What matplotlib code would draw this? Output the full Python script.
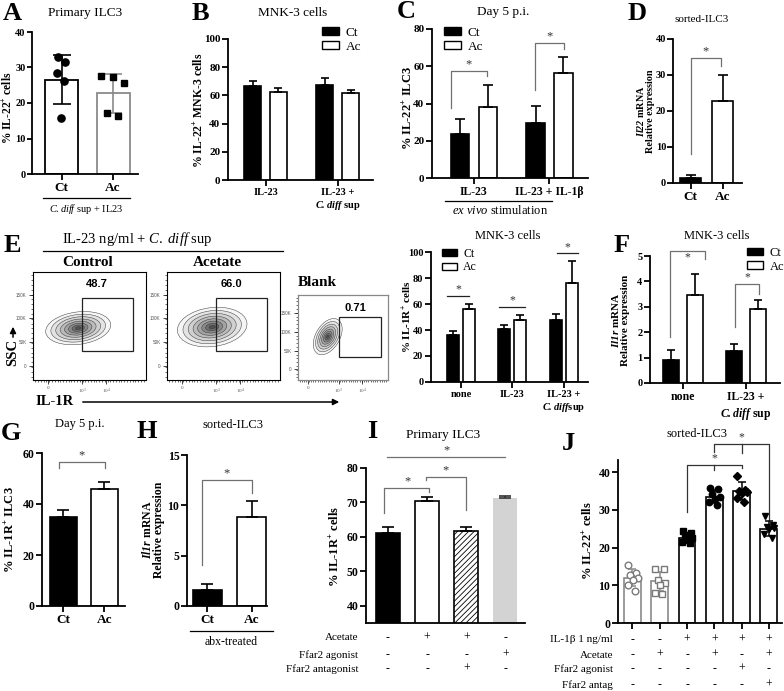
import numpy as np
import matplotlib
matplotlib.use("Agg")
import matplotlib.pyplot as plt
from matplotlib.patches import Patch, Ellipse, Rectangle, FancyArrowPatch
from matplotlib.transforms import blended_transform_factory
from matplotlib.lines import Line2D

plt.rcParams.update({
    'font.family': ['Liberation Serif', 'DejaVu Serif'],
    'mathtext.fontset': 'custom',
    'mathtext.rm': 'Liberation Serif',
    'mathtext.it': 'Liberation Serif:italic',
    'mathtext.bf': 'Liberation Serif:bold',
    'mathtext.bfit': 'Liberation Serif:italic:bold',
    'hatch.color': '#555555',
    'hatch.linewidth': 0.6,
})

# ---------------- data ----------------
A_labels = ['Ct', 'Ac']
A_means = [26.6, 22.7]
A_sd = [6.8, 5.6]
A_ct_points = [33.0, 31.5, 28.4, 26.2, 15.8]
A_ac_points = [27.6, 27.3, 25.6, 17.2, 16.4]

B_labels = ['IL-23', 'IL-23 +\n$\\mathbfit{C.diff}$ sup']
B_ct = [67.0, 67.5]
B_ct_err = [3.5, 5.0]
B_ac = [62.5, 62.0]
B_ac_err = [3.0, 2.0]

C_labels = ['IL-23', 'IL-23 + IL-1β']
C_ct = [23.5, 29.5]
C_ct_err = [8.0, 9.0]
C_ac = [38.0, 56.5]
C_ac_err = [12.0, 8.5]

D_labels = ['Ct', 'Ac']
D_vals = [1.5, 22.7]
D_err = [0.8, 7.3]

E_flow_names = ['Control', 'Acetate', 'Blank']
E_flow_pct = ['48.7', '66.0', '0.71']
E_labels = ['none', 'IL-23', 'IL-23 +\n$\\mathbfit{C.diff}$sup']
E_ct = [36.5, 41.0, 48.0]
E_ct_err = [2.5, 2.5, 4.0]
E_ac = [56.0, 47.5, 76.0]
E_ac_err = [4.0, 4.0, 17.0]

F_labels = ['none', 'IL-23 +\n$\\mathbfit{C.diff}$ sup']
F_ct = [0.9, 1.27]
F_ct_err = [0.4, 0.28]
F_ac = [3.45, 2.93]
F_ac_err = [0.85, 0.34]

G_labels = ['Ct', 'Ac']
G_vals = [35.0, 46.0]
G_err = [2.7, 2.5]

H_labels = ['Ct', 'Ac']
H_vals = [1.6, 8.8]
H_err = [0.6, 1.6]

I_vals = [61.2, 70.3, 61.8, 71.2]
I_err = [1.7, 1.2, 1.0, 0.8]
I_rows = ['Acetate', 'Ffar2 agonist', 'Ffar2 antagonist']
I_signs = [['-', '+', '+', '-'],
           ['-', '-', '-', '+'],
           ['-', '-', '+', '-']]

J_means = [12.0, 11.0, 22.6, 33.5, 35.0, 25.0]
J_sd = [2.2, 2.6, 1.0, 1.8, 2.3, 2.0]
J_points = [
    [15.5, 13.3, 12.8, 12.0, 11.5, 10.0, 8.6],
    [14.3, 14.2, 11.5, 10.5, 10.2, 8.0, 7.8],
    [24.3, 23.8, 23.2, 22.6, 22.0, 21.6, 21.3],
    [35.7, 35.4, 34.3, 33.5, 32.8, 32.2, 31.3],
    [38.9, 35.3, 35.0, 34.8, 34.5, 33.2, 32.0],
    [28.3, 26.0, 25.5, 25.2, 24.8, 23.7, 22.5],
]
J_rows = ['IL-1β 1 ng/ml', 'Acetate', 'Ffar2 agonist', 'Ffar2 antag']
J_signs = [['-', '-', '+', '+', '+', '+'],
           ['-', '+', '-', '+', '-', '+'],
           ['-', '-', '-', '-', '+', '-'],
           ['-', '-', '-', '-', '-', '+']]

# ---------------- helpers ----------------
W, H = 784, 691
fig = plt.figure(figsize=(W / 100, H / 100), dpi=100)
GRAY = '#707070'


def add_ax(x0, y0, x1, y1):
    return fig.add_axes([x0 / W, 1 - y1 / H, (x1 - x0) / W, (y1 - y0) / H])


def ftext(x, y, s, **kw):
    kw.setdefault('ha', 'center')
    kw.setdefault('va', 'center')
    return fig.text(x / W, 1 - y / H, s, **kw)


def fline(x0, y0, x1, y1, color='black', lw=0.9):
    fig.add_artist(Line2D([x0 / W, x1 / W], [1 - y0 / H, 1 - y1 / H], color=color, lw=lw))


def farrow(x0, y0, x1, y1):
    fig.add_artist(FancyArrowPatch((x0 / W, 1 - y0 / H), (x1 / W, 1 - y1 / H),
                                   transform=fig.transFigure, arrowstyle='-|>',
                                   mutation_scale=9, lw=1.1, color='black'))


def style(ax, xlim, ylim, yticks, fs=8, pad=1.5):
    ax.set_xlim(*xlim)
    ax.set_ylim(*ylim)
    ax.set_yticks(yticks)
    ax.spines['top'].set_visible(False)
    ax.spines['right'].set_visible(False)
    for s in ('left', 'bottom'):
        ax.spines[s].set_linewidth(1.3)
    ax.tick_params(direction='out', length=4, width=1.3, labelsize=fs, pad=pad)
    for lab in ax.get_yticklabels():
        lab.set_fontweight('bold')
    ax.patch.set_alpha(0)


def xlabels(ax, labels, fs=8, pad=2):
    ax.set_xticks(range(len(labels)))
    ax.set_xticklabels(labels, fontweight='bold', fontsize=fs)
    ax.tick_params(axis='x', pad=pad)


def up_err(ax, x, y, e, color='black', cap=3.5):
    ax.errorbar(x, y, yerr=[np.zeros(len(e)), e], fmt='none', ecolor=color,
                elinewidth=1.2, capsize=cap, capthick=1.2, zorder=3)


def grouped(ax, ct, cte, ac, ace, off, w, cap):
    x = np.arange(len(ct))
    ax.bar(x - off, ct, w, color='black', edgecolor='black', lw=1.2, zorder=2)
    ax.bar(x + off, ac, w, color='white', edgecolor='black', lw=1.2, zorder=2)
    up_err(ax, x - off, ct, cte, cap=cap)
    up_err(ax, x + off, ac, ace, cap=cap)


def bracket(ax, x1, x2, top, f1, f2, color=GRAY, mids=(), fs=9, starx=None,
            scolor='#333333', below=False):
    ax.plot([x1, x1, x2, x2], [f1, top, top, f2], color=color, lw=0.9, clip_on=False)
    for mx, mf in mids:
        ax.plot([mx, mx], [top, mf], color=color, lw=0.9, clip_on=False)
    sx = (x1 + x2) / 2 if starx is None else starx
    if below:
        ax.annotate('*', (sx, top), xytext=(0, -0.5), textcoords='offset points', ha='center',
                    va='top', fontsize=fs, color=scolor, annotation_clip=False)
    else:
        ax.annotate('*', (sx, top), xytext=(0, 0.3), textcoords='offset points', ha='center',
                    va='bottom', fontsize=fs, color=scolor, annotation_clip=False)


def legend(ax, x, y, fs=9):
    h = [Patch(facecolor='black', edgecolor='black', label='Ct'),
         Patch(facecolor='white', edgecolor='black', label='Ac')]
    ax.legend(handles=h, loc='upper left', bbox_to_anchor=(x / W, 1 - y / H),
              bbox_transform=fig.transFigure, frameon=False, fontsize=fs,
              handlelength=1.3, handleheight=0.55, handletextpad=0.5,
              labelspacing=0.12, borderpad=0, borderaxespad=0)


def ylab(x, y, s, fs=8.5, ls=0.95):
    ftext(x, y, s, rotation=90, fontweight='bold', fontsize=fs, linespacing=ls,
          multialignment='center')


# ---------------- panel letters & titles ----------------
for L, (x, y) in {'A': (12, 13), 'B': (200, 13), 'C': (406, 12), 'D': (637, 13),
                  'E': (12, 245), 'F': (622, 246), 'G': (11, 434), 'H': (147, 431),
                  'I': (372, 431), 'J': (568, 443)}.items():
    ftext(x, y, L, fontsize=19, fontweight='bold')

for s, (x, y), fs in [('Primary ILC3', (85, 13), 9.5), ('MNK-3 cells', (293, 13), 9.5),
                      ('Day 5 p.i.', (503, 12), 9.5), ('sorted-ILC3', (702, 20), 8),
                      ('MNK-3 cells', (508, 236), 9), ('MNK-3 cells', (717, 236), 9),
                      ('Day 5 p.i.', (80, 424), 9), ('sorted-ILC3', (233, 425), 9),
                      ('Primary ILC3', (443, 435), 9.5), ('sorted-ILC3', (697, 434), 9)]:
    ftext(x, y, s, fontsize=fs)

# ---------------- A ----------------
ax = add_ax(32, 32, 138, 174)
edgesA = ['black', '#8a8a8a']
ax.bar([0, 1], A_means, 0.64, color='white', edgecolor=edgesA, lw=1.3, zorder=2)
for i in range(2):
    ax.errorbar([i], [A_means[i]], yerr=[[A_sd[i]], [A_sd[i]]], fmt='none', ecolor=edgesA[i],
                elinewidth=1.2, capsize=6.5, capthick=1.2, zorder=3)
jitA_ct = [-0.07, 0.06, -0.08, 0.05, -0.01]
jitA_ac = [-0.23, 0.0, 0.21, -0.12, 0.10]
ax.plot(np.array(jitA_ct), A_ct_points, 'o', color='black', ms=5.2, zorder=4)
ax.plot(1 + np.array(jitA_ac), A_ac_points, 's', color='black', ms=4.8, zorder=4)
style(ax, (-0.573, 1.485), (0, 40), [0, 10, 20, 30, 40], fs=7.5, pad=1)
ax.tick_params(axis='y', length=3.5)
xlabels(ax, A_labels, fs=9.5)
ylab(8, 108, '% IL-22$^{\\mathbf{+}}$ cells', fs=8.3)
fline(43, 198, 130, 198)
ftext(86, 209, '$\\mathit{C.diff}$ sup + IL23', fontsize=7.5)

# ---------------- B ----------------
ax = add_ax(228, 39, 373, 180)
grouped(ax, B_ct, B_ct_err, B_ac, B_ac_err, 0.18, 0.236, 3)
style(ax, (-0.52, 1.49), (0, 100), [0, 20, 40, 60, 80, 100])
xlabels(ax, B_labels, fs=7.5)
ylab(199, 110, '% IL-22$^{\\mathbf{+}}$ MNK-3 cells')
legend(ax, 322, 27, fs=9.5)

# ---------------- C ----------------
ax = add_ax(432, 29, 588, 178)
grouped(ax, C_ct, C_ct_err, C_ac, C_ac_err, 0.185, 0.24, 3.5)
style(ax, (-0.556, 1.51), (0, 80), [0, 20, 40, 60, 80])
xlabels(ax, C_labels, fs=8.5)
ylab(408, 108, '% IL-22$^{\\mathbf{+}}$ ILC3', fs=9)
legend(ax, 444, 27, fs=9.5)
bracket(ax, -0.305, 0.172, 57.5, 37.6, 55.0)
bracket(ax, 0.808, 1.19, 72.5, 47.0, 69.0)
fline(445, 201, 552, 201)
ftext(500, 211, '$\\mathit{ex\\ vivo}$ stimulation', fontsize=9)

# ---------------- D ----------------
ax = add_ax(673, 39, 742, 183)
ax.bar([0, 1], D_vals, 0.66, color=['black', 'white'], edgecolor='black', lw=1.2, zorder=2)
up_err(ax, [0, 1], D_vals, D_err, cap=3.5)
style(ax, (-0.547, 1.6), (0, 40), [0, 10, 20, 30, 40], fs=7.5, pad=1)
xlabels(ax, D_labels, fs=9.5)
ylab(645, 111, '$\\mathbfit{Il22}$ mRNA\nRelative expression', fs=7.3, ls=1.0)
bracket(ax, 0.0, 0.95, 34.7, 8.0, 32.5)

# ---------------- E flow plots ----------------
fline(43, 251, 283, 251)
ftext(137, 239, 'IL-23 ng/ml + $\\mathit{C.\\ diff}$ sup', fontsize=10.5)
ftext(13, 352, 'SSC', rotation=90, fontsize=10.5, fontweight='bold')
farrow(13, 340, 13, 324)
ftext(55, 402, 'IL-1R', fontsize=10.5, fontweight='bold')
farrow(80, 402, 342, 402)

flow_rects = [(33, 272, 146, 380), (167, 272, 280, 380), (298, 295, 388, 380)]
flow_gates = [(0.434, 0.269, 0.885, 0.759), (0.434, 0.269, 0.885, 0.759),
              (0.456, 0.27, 0.922, 0.741)]
flow_pct_pos = [(97, 284), (231, 284), (355, 308)]
flow_title_pos = [(88, 262), (217, 262), (317, 282)]
flow_center = [(0.40, 0.48), (0.40, 0.49), (0.33, 0.51)]
flow_size = [(0.58, 0.30), (0.62, 0.36), (0.46, 0.27)]
flow_angle = [8, 8, 62]
flow_yt = [[0.13, 0.352, 0.574, 0.787]] * 2 + [[0.13, 0.341, 0.565, 0.79]]
flow_xt = [[0.133, 0.434, 0.646]] * 2 + [[0.11, 0.45, 0.71]]
levels = [1.0, 0.84, 0.69, 0.55, 0.42, 0.30, 0.19, 0.09]
shades = ['#f5f5f5', '#e3e3e3', '#d0d0d0', '#bbbbbb', '#a3a3a3', '#8a8a8a', '#6e6e6e', '#505050']
for k in range(3):
    axf = add_ax(*flow_rects[k])
    axf.set_xlim(0, 1)
    axf.set_ylim(0, 1)
    (cx, cy), (w, h) = flow_center[k], flow_size[k]
    for sc, col in zip(levels, shades):
        axf.add_patch(Ellipse((cx, cy), w * sc, h * sc, angle=flow_angle[k], facecolor=col,
                              edgecolor='#3a3a3a', lw=0.35, zorder=2))
    g = flow_gates[k]
    axf.add_patch(Rectangle((g[0], g[1]), g[2] - g[0], g[3] - g[1], fill=False,
                            edgecolor='#222222', lw=0.9, zorder=3))
    for s in axf.spines.values():
        s.set_linewidth(0.8 if k < 2 else 0.9)
        s.set_color('black' if k < 2 else '#888888')
    axf.set_yticks(flow_yt[k])
    axf.set_yticklabels(['0', '50K', '100K', '150K'], fontsize=3.3, color='#555555',
                        family='Liberation Sans')
    axf.set_xticks(flow_xt[k])
    axf.set_xticklabels(['0', '$10^3$', '$10^4$'], fontsize=3.6, color='#555555')
    axf.set_xticks(np.linspace(0.02, 0.98, 40), minor=True)
    axf.set_yticks(np.linspace(0.03, 0.97, 22), minor=True)
    axf.tick_params(direction='out', length=3, width=0.5, pad=1.5)
    axf.tick_params(which='minor', direction='out', length=1.6, width=0.4)
    ftext(*flow_pct_pos[k], E_flow_pct[k], fontsize=8, fontweight='bold',
          family='Liberation Sans')
    ftext(*flow_title_pos[k], E_flow_names[k], fontsize=11, fontweight='bold')

# ---------------- E bars ----------------
ax = add_ax(431, 252, 588, 382)
grouped(ax, E_ct, E_ct_err, E_ac, E_ac_err, 0.155, 0.233, 2.8)
style(ax, (-0.58, 2.466), (0, 100), [0, 20, 40, 60, 80, 100], fs=7.5)
xlabels(ax, E_labels, fs=7.5)
ylab(407, 317, '% IL-1R$^{\\mathbf{+}}$ cells', fs=8)
legend(ax, 442, 248, fs=8.5)
E_sig = [(-0.27, 0.16, 66.0), (-0.26, 0.24, 57.7), (-0.14, 0.27, 99.0)]
for i, (a, b, yv) in enumerate(E_sig):
    bracket(ax, i + a, i + b, yv, yv, yv, color='#222222', fs=8.5)

# ---------------- F ----------------
ax = add_ax(650, 256, 780, 383)
grouped(ax, F_ct, F_ct_err, F_ac, F_ac_err, 0.195, 0.254, 3.2)
style(ax, (-0.524, 1.54), (0, 5), [0, 1, 2, 3, 4, 5], fs=7.5)
xlabels(ax, F_labels, fs=8.5)
ylab(620, 320, '$\\mathbfit{Il1r}$ mRNA\nRelative expression', fs=8)
legend(ax, 747, 247, fs=9)
bracket(ax, -0.206, 0.35, 5.2, 1.8, 4.9, fs=8.5, below=True)
bracket(ax, 0.825, 1.206, 3.9, 2.2, 3.5, fs=8.5)

# ---------------- G ----------------
ax = add_ax(42, 453, 125, 606)
ax.bar([0, 1], G_vals, 0.66, color=['black', 'white'], edgecolor='black', lw=1.2, zorder=2)
up_err(ax, [0, 1], G_vals, G_err, cap=4)
style(ax, (-0.524, 1.5), (0, 60), [0, 20, 40, 60], fs=8.5)
xlabels(ax, G_labels, fs=9.5)
ylab(10, 530, '% IL-1R$^{\\mathbf{+}}$ ILC3', fs=9)
bracket(ax, -0.11, 1.01, 56.5, 54.0, 54.0)

# ---------------- H ----------------
ax = add_ax(187, 455, 267, 606)
ax.bar([0, 1], H_vals, 0.65, color=['black', 'white'], edgecolor='black', lw=1.2, zorder=2)
up_err(ax, [0, 1], H_vals, H_err, cap=4)
style(ax, (-0.46, 1.34), (0, 15), [0, 5, 10, 15], fs=8.5)
xlabels(ax, H_labels, fs=9.5)
ylab(153, 530, '$\\mathbfit{Il1r}$ mRNA\nRelative expression', fs=8.5)
bracket(ax, -0.12, 1.0, 12.5, 4.1, 11.2)
fline(190, 631, 273, 631)
ftext(231, 642, 'abx-treated', fontsize=8.5)

# ---------------- I ----------------
ax = add_ax(366, 468, 525, 623)
Ix = np.arange(4)
ax.bar(Ix[:1], I_vals[:1], 0.61, color='black', edgecolor='black', lw=1.2, zorder=2)
ax.bar(Ix[1:2], I_vals[1:2], 0.61, color='white', edgecolor='black', lw=1.2, zorder=2)
ax.bar(Ix[2:3], I_vals[2:3], 0.61, color='white', edgecolor='black', lw=1.2, hatch='//////',
       zorder=2)
ax.bar(Ix[3:], I_vals[3:], 0.61, color='#d3d3d3', edgecolor='none', zorder=2)
up_err(ax, Ix[:3], I_vals[:3], I_err[:3], cap=4)
up_err(ax, Ix[3:], I_vals[3:], I_err[3:], color='#333333', cap=4)
style(ax, (-0.56, 3.5), (35, 80), [40, 50, 60, 70, 80], fs=8.5)
ax.set_xticks([])
ylab(335, 546, '% IL-1R$^{\\mathbf{+}}$ cells', fs=9)
bracket(ax, -0.1, 1.05, 74.2, 67.0, 73.1, starx=0.51)
bracket(ax, 0.97, 1.99, 77.4, 76.5, 67.8)
bracket(ax, -0.03, 2.98, 83.3, 83.3, 83.3, starx=1.5)
trI = blended_transform_factory(ax.transData, fig.transFigure)
rowyI = [638, 655, 669]
for r, row in enumerate(I_signs):
    ftext(358, rowyI[r], I_rows[r], ha='right', fontsize=8)
    for i, s in enumerate(row):
        ax.text(i, 1 - rowyI[r] / H, s, transform=trI, ha='center', va='center',
                fontsize=8.5, clip_on=False)

# ---------------- J ----------------
ax = add_ax(618, 460, 782, 623)
Jx = np.arange(6)
jedge = ['#8a8a8a', '#8a8a8a', 'black', 'black', 'black', 'black']
ax.bar(Jx, J_means, 0.62, color='white', edgecolor=jedge, lw=1.2, zorder=2)
for i in range(6):
    ax.errorbar([i], [J_means[i]], yerr=[[J_sd[i]], [J_sd[i]]], fmt='none', ecolor=jedge[i],
                elinewidth=1.1, capsize=3, capthick=1.1, zorder=3)
jit = np.array([-0.16, 0.14, -0.08, 0.2, 0.02, -0.18, 0.1])
markers = ['o', 's', 's', 'o', 'D', 'v']
for i, pts in enumerate(J_points):
    if i < 2:
        ax.plot(i + jit, pts, markers[i], mfc='white', mec='#7a7a7a', mew=1.0, ms=4.8, zorder=4)
    else:
        ax.plot(i + jit, pts, markers[i], color='black', ms=4.6 if markers[i] != 'D' else 3.8,
                zorder=4)
style(ax, (-0.53, 5.48), (0, 43.2), [0, 10, 20, 30, 40], fs=8.5)
ax.set_xticks(Jx)
ax.set_xticklabels([])
ylab(588, 541, '% IL-22$^{\\mathbf{+}}$ cells', fs=9)
bracket(ax, 2, 4, 42.0, 29.4, 41.0, color='#333333', mids=[(3, 40.5)], starx=3, fs=8.5)
bracket(ax, 3, 5, 47.4, 45.3, 27.3, color='#333333', mids=[(4, 45.0)], starx=4, fs=8.5)
trJ = blended_transform_factory(ax.transData, fig.transFigure)
rowyJ = [640, 655, 669, 685]
for r, row in enumerate(J_signs):
    ftext(613, rowyJ[r], J_rows[r], ha='right', fontsize=8)
    for i, s in enumerate(row):
        ax.text(i, 1 - rowyJ[r] / H, s, transform=trJ, ha='center', va='center',
                fontsize=8.5, clip_on=False)

fig.savefig('out.png', dpi=100)
